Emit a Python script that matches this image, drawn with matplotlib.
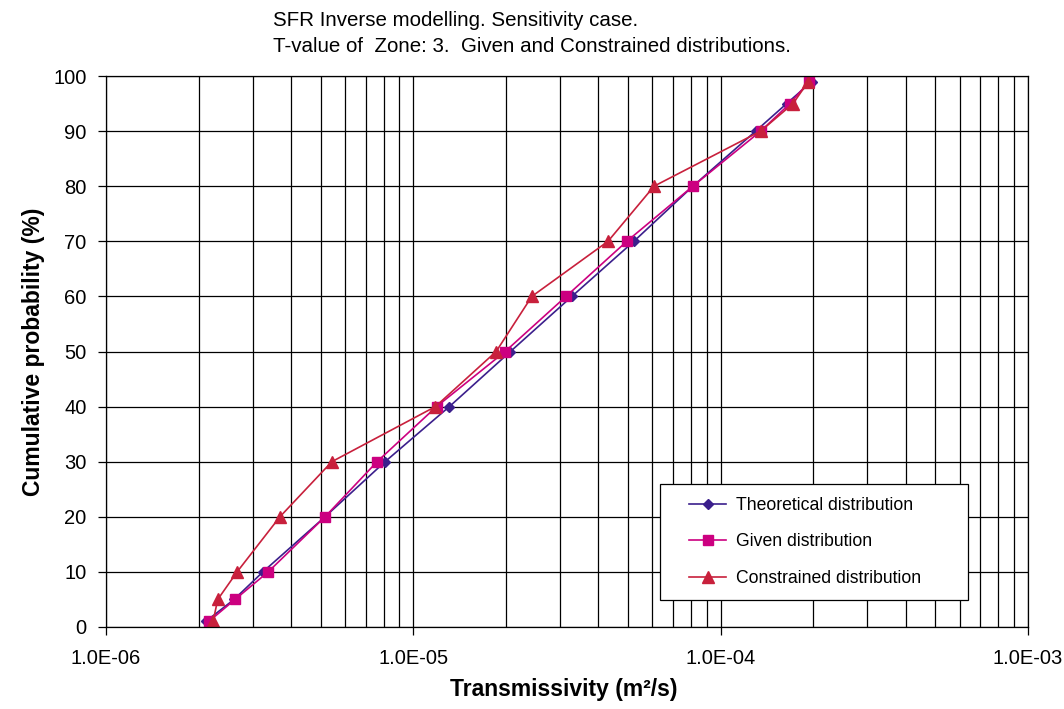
import numpy as np
import matplotlib.pyplot as plt
from matplotlib.lines import Line2D
from matplotlib.legend_handler import HandlerLine2D
from matplotlib.ticker import FixedLocator, FuncFormatter, NullFormatter

plt.rcParams['font.family'] = ['Liberation Sans', 'DejaVu Sans']

# cumulative probability levels (%)
prob = [1, 5, 10, 20, 30, 40, 50, 60, 70, 80, 90, 95, 99]

# transmissivity values (m2/s)
t_theoretical = [2.11e-6, 2.61e-6, 3.24e-6, 5.16e-6, 8.09e-6, 1.31e-5, 2.07e-5,
                 3.28e-5, 5.22e-5, 8.12e-5, 1.30e-4, 1.64e-4, 1.98e-4]
t_given = [2.16e-6, 2.63e-6, 3.37e-6, 5.16e-6, 7.62e-6, 1.19e-5, 1.99e-5,
           3.14e-5, 4.95e-5, 8.12e-5, 1.35e-4, 1.68e-4, 1.94e-4]
t_constrained = [2.23e-6, 2.31e-6, 2.67e-6, 3.68e-6, 5.43e-6, 1.18e-5, 1.86e-5,
                 2.43e-5, 4.30e-5, 6.07e-5, 1.35e-4, 1.72e-4, 1.93e-4]

fig = plt.figure(figsize=(10.64, 7.09), dpi=100)
ax = fig.add_axes([106/1064, 82/709, 922/1064, 551/709])

ax.plot(t_theoretical, prob, color='#3B1F8C', marker='D', markersize=5.5,
        linewidth=1.2, label='Theoretical distribution')
ax.plot(t_given, prob, color='#CC0080', marker='s', markersize=7,
        linewidth=1.2, label='Given distribution')
ax.plot(t_constrained, prob, color='#C8203C', marker='^', markersize=8,
        linewidth=1.2, label='Constrained distribution')

ax.set_xscale('log')
ax.set_xlim(1e-6, 1e-3)
ax.set_ylim(0, 100)
ax.set_yticks(range(0, 101, 10))

ax.xaxis.set_major_locator(FixedLocator([1e-6, 1e-5, 1e-4, 1e-3]))
ax.xaxis.set_major_formatter(FuncFormatter(lambda v, p: '%.1E' % v))
minors = [m * d for d in [1e-6, 1e-5, 1e-4] for m in range(2, 10)]
ax.xaxis.set_minor_locator(FixedLocator(minors))
ax.xaxis.set_minor_formatter(NullFormatter())

ax.grid(True, which='both', axis='x', color='black', linewidth=0.9)
ax.grid(True, which='major', axis='y', color='black', linewidth=0.9)
ax.set_axisbelow(True)
for s in ax.spines.values():
    s.set_color('black')
    s.set_linewidth(0.9)

ax.tick_params(axis='both', which='major', labelsize=14.5, length=6,
               width=0.9, direction='out')
ax.tick_params(axis='y', pad=8)
ax.tick_params(axis='x', pad=10)
ax.tick_params(axis='x', which='minor', length=0)

ax.set_xlabel('Transmissivity (m\u00b2/s)', fontsize=16.5, fontweight='bold')
ax.set_ylabel('Cumulative probability (%)', fontsize=16.5, fontweight='bold')
ax.xaxis.set_label_coords(0.496, -0.093)
ax.yaxis.set_label_coords(-0.066, 0.5)

fig.text(273/1064, 1 - 21/709, 'SFR Inverse modelling. Sensitivity case.',
         fontsize=14.8, va='center', ha='left')
fig.text(273/1064, 1 - 46/709, 'T-value of  Zone: 3.  Given and Constrained distributions.',
         fontsize=14.8, va='center', ha='left')

leg = ax.legend(loc='center', bbox_to_anchor=(660/1064, 109/709, 308/1064, 116/709),
                bbox_transform=fig.transFigure, mode='expand', fontsize=12.7,
                frameon=True, fancybox=False, edgecolor='black', framealpha=1,
                labelspacing=1.1, handlelength=3.0, borderpad=0.75,
                handletextpad=0.55, borderaxespad=0,
                handler_map={Line2D: HandlerLine2D(xpad=0.9)})
leg.get_frame().set_linewidth(0.9)

fig.savefig('out.png', dpi=100)
